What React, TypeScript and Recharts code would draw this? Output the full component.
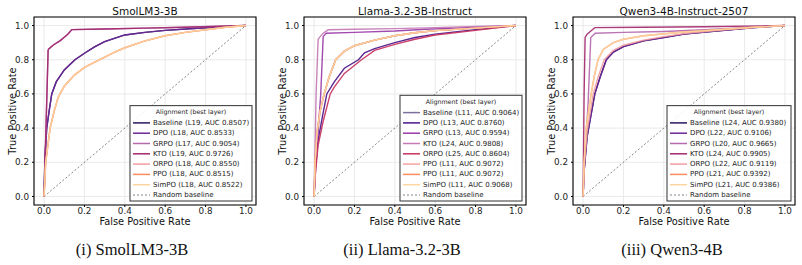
import React from 'react';
import { LineChart, Line, XAxis, YAxis, CartesianGrid, ReferenceArea } from 'recharts';

const FONT = 'DejaVu Sans';
const axisTicks = [0, 0.2, 0.4, 0.6, 0.8, 1.0];
const chanceFpr = [0, 1];
const chanceTpr = [0, 1];

// SmolLM3-3B curves
const smolHighFpr = [0, 0.02, 0.022, 0.046, 0.08, 0.1, 0.12, 0.137, 0.3, 0.5, 0.7, 1.0];
const smolHighTpr = [0, 0.855, 0.862, 0.886, 0.912, 0.932, 0.952, 0.976, 0.98, 0.985, 0.99, 1.0];
const smolMidFpr = [0, 0.004, 0.013, 0.025, 0.038, 0.06, 0.1, 0.153, 0.2, 0.25, 0.3, 0.4, 0.5, 0.6, 0.8, 1.0];
const smolMidTpr = [0, 0.22, 0.4, 0.5, 0.6, 0.67, 0.74, 0.8, 0.838, 0.875, 0.906, 0.945, 0.96, 0.972, 0.987, 1.0];
const smolLowFpr = [0, 0.008, 0.03, 0.05, 0.07, 0.1, 0.15, 0.2, 0.276, 0.35, 0.4, 0.5, 0.6, 0.7, 0.8, 0.9, 1.0];
const smolLowTpr = [0, 0.2, 0.4, 0.5, 0.58, 0.645, 0.71, 0.755, 0.8, 0.845, 0.87, 0.91, 0.94, 0.96, 0.975, 0.99, 1.0];

// Llama-3.2-3B curves
const llamaTopFpr = [0, 0.005, 0.01, 0.02, 0.03, 0.045, 0.07, 0.2, 0.4, 0.6, 0.8, 1.0];
const llamaTopTpr = [0, 0.3, 0.6, 0.92, 0.935, 0.955, 0.975, 0.978, 0.982, 0.988, 0.994, 1.0];
const llamaSecondFpr = [0, 0.01, 0.02, 0.033, 0.045, 0.06, 0.2, 0.4, 0.55, 0.7, 0.85, 1.0];
const llamaSecondTpr = [0, 0.2, 0.38, 0.6, 0.935, 0.955, 0.96, 0.968, 0.978, 0.985, 0.993, 1.0];
const llamaMidFpr = [0, 0.005, 0.015, 0.03, 0.05, 0.075, 0.107, 0.15, 0.2, 0.3, 0.4, 0.5, 0.6, 0.8, 1.0];
const llamaMidTpr = [0, 0.2, 0.38, 0.5, 0.6, 0.7, 0.8, 0.85, 0.882, 0.915, 0.94, 0.958, 0.97, 0.985, 1.0];
const llamaDpoFpr = [0, 0.005, 0.02, 0.04, 0.063, 0.1, 0.15, 0.22, 0.25, 0.3, 0.4, 0.5, 0.6, 0.8, 1.0];
const llamaDpoTpr = [0, 0.15, 0.33, 0.46, 0.6, 0.67, 0.75, 0.8, 0.84, 0.865, 0.9, 0.93, 0.95, 0.976, 1.0];
const llamaOrpoFpr = [0, 0.005, 0.02, 0.045, 0.08, 0.1, 0.15, 0.235, 0.3, 0.4, 0.5, 0.6, 0.8, 1.0];
const llamaOrpoTpr = [0, 0.12, 0.3, 0.44, 0.6, 0.64, 0.72, 0.8, 0.855, 0.89, 0.92, 0.945, 0.972, 1.0];

// Qwen3-4B curves
const qwenTopFpr = [0, 0.005, 0.01, 0.02, 0.04, 0.058, 0.3, 0.6, 1.0];
const qwenTopTpr = [0, 0.6, 0.93, 0.95, 0.97, 0.988, 0.99, 0.993, 1.0];
const qwenSecondFpr = [0, 0.01, 0.025, 0.038, 0.06, 0.2, 0.4, 0.6, 0.8, 1.0];
const qwenSecondTpr = [0, 0.25, 0.55, 0.93, 0.955, 0.96, 0.965, 0.975, 0.988, 1.0];
const qwenMidFpr = [0, 0.005, 0.015, 0.04, 0.055, 0.074, 0.1, 0.15, 0.2, 0.3, 0.5, 0.7, 0.85, 1.0];
const qwenMidTpr = [0, 0.2, 0.4, 0.6, 0.7, 0.8, 0.86, 0.9, 0.92, 0.94, 0.962, 0.978, 0.99, 1.0];
const qwenLowFpr = [0, 0.005, 0.02, 0.058, 0.085, 0.115, 0.15, 0.2, 0.3, 0.4, 0.5, 0.7, 0.85, 1.0];
const qwenLowTpr = [0, 0.15, 0.35, 0.6, 0.7, 0.8, 0.845, 0.877, 0.91, 0.93, 0.95, 0.972, 0.988, 1.0];
const qwenOrpoFpr = [0, 0.005, 0.02, 0.05, 0.075, 0.105, 0.15, 0.2, 0.3, 0.4, 0.5, 0.7, 0.85, 1.0];
const qwenOrpoTpr = [0, 0.18, 0.38, 0.6, 0.7, 0.8, 0.855, 0.885, 0.915, 0.935, 0.953, 0.975, 0.989, 1.0];

const smolLabels = ['Baseline (L19, AUC 0.8507)', 'DPO (L18, AUC 0.8533)', 'GRPO (L17, AUC 0.9054)', 'KTO (L19, AUC 0.9726)', 'ORPO (L18, AUC 0.8550)', 'PPO (L18, AUC 0.8515)', 'SimPO (L18, AUC 0.8522)'];
const llamaLabels = ['Baseline (L11, AUC 0.9064)', 'DPO (L13, AUC 0.8760)', 'GRPO (L13, AUC 0.9594)', 'KTO (L24, AUC 0.9808)', 'ORPO (L25, AUC 0.8604)', 'PPO (L11, AUC 0.9072)', 'PPO (L11, AUC 0.9072)', 'SimPO (L11, AUC 0.9068)'];
const qwenLabels = ['Baseline (L24, AUC 0.9380)', 'DPO (L22, AUC 0.9106)', 'GRPO (L20, AUC 0.9665)', 'KTO (L24, AUC 0.9905)', 'ORPO (L22, AUC 0.9119)', 'PPO (L21, AUC 0.9392)', 'SimPO (L21, AUC 0.9386)'];

const sevenColors = ['#2a1660', '#6a2796', '#b468ad', '#a3296e', '#f29da0', '#fb8d5d', '#fdd49e'];
const eightColors = ['#7d6f9f', '#4b1589', '#9a3aa8', '#c47ab4', '#c7325e', '#f5a3a3', '#fb8c5c', '#fed6a0'];

const toPoints = (fpr: number[], tpr: number[]) => fpr.map((x, i) => ({ x, y: tpr[i] }));

const panels = [
  {
    title: 'SmolLM3-3B', caption: '(i) SmolLM3-3B', left: 0, captionX: 132, legendWidth: 122,
    labels: smolLabels, colors: sevenColors,
    curves: [[smolMidFpr, smolMidTpr], [smolMidFpr, smolMidTpr], [smolHighFpr, smolHighTpr], [smolHighFpr, smolHighTpr], [smolLowFpr, smolLowTpr], [smolLowFpr, smolLowTpr], [smolLowFpr, smolLowTpr]],
  },
  {
    title: 'Llama-3.2-3B-Instruct', caption: '(ii) Llama-3.2-3B', left: 270, captionX: 402, legendWidth: 122,
    labels: llamaLabels, colors: eightColors,
    curves: [[llamaMidFpr, llamaMidTpr], [llamaDpoFpr, llamaDpoTpr], [llamaSecondFpr, llamaSecondTpr], [llamaTopFpr, llamaTopTpr], [llamaOrpoFpr, llamaOrpoTpr], [llamaMidFpr, llamaMidTpr], [llamaMidFpr, llamaMidTpr], [llamaMidFpr, llamaMidTpr]],
  },
  {
    title: 'Qwen3-4B-Instruct-2507', caption: '(iii) Qwen3-4B', left: 539, captionX: 672, legendWidth: 124,
    labels: qwenLabels, colors: sevenColors,
    curves: [[qwenLowFpr, qwenLowTpr], [qwenLowFpr, qwenLowTpr], [qwenSecondFpr, qwenSecondTpr], [qwenTopFpr, qwenTopTpr], [qwenOrpoFpr, qwenOrpoTpr], [qwenMidFpr, qwenMidTpr], [qwenMidFpr, qwenMidTpr]],
  },
];

const fmt = (v: number) => v.toFixed(1);
const tickStyle = { fontSize: 8.8, fill: '#222', fontFamily: FONT };

function RocPanel({ panel }: any) {
  return (
    <div style={{ position: 'absolute', left: panel.left, top: 0 }}>
      <LineChart width={260} height={230} margin={{ top: 17, right: 4, bottom: 11, left: 10 }}>
        <CartesianGrid stroke="#e4e4e4" strokeWidth={0.8} />
        <XAxis type="number" dataKey="x" domain={[-0.05, 1.05]} ticks={axisTicks} tickFormatter={fmt}
          height={14} tickSize={2} tickMargin={1} axisLine={false} tickLine={{ stroke: '#000' }} tick={tickStyle} allowDataOverflow />
        <YAxis type="number" dataKey="y" domain={[-0.05, 1.05]} ticks={axisTicks} tickFormatter={fmt}
          width={24} tickSize={2} tickMargin={3} axisLine={false} tickLine={{ stroke: '#000' }} tick={tickStyle} allowDataOverflow />
        <ReferenceArea x1={-0.05} x2={1.05} y1={-0.05} y2={1.05} fill="none" stroke="#000" strokeWidth={1.1} />
        <Line data={toPoints(chanceFpr, chanceTpr)} dataKey="y" stroke="#666" strokeWidth={0.8} strokeDasharray="2 2"
          dot={false} isAnimationActive={false} />
        {panel.curves.map((c: number[][], i: number) => (
          <Line key={i} data={toPoints(c[0], c[1])} dataKey="y" stroke={panel.colors[i]} strokeWidth={1.4}
            strokeOpacity={0.92} dot={false} isAnimationActive={false} />
        ))}
      </LineChart>
    </div>
  );
}

function Overlay() {
  return (
    <svg width={802} height={265} style={{ position: 'absolute', left: 0, top: 0, pointerEvents: 'none' }}>
      {panels.map((p, k) => {
        const plotLeft = p.left + 34;
        const plotRight = plotLeft + 222;
        const n = p.labels.length + 1;
        const rowGap = 10.3;
        const firstRow = 195 - (n - 1) * rowGap;
        const titleY = firstRow - 11.3;
        const boxTop = titleY - 6;
        const boxLeft = plotRight - 4 - p.legendWidth;
        return (
          <g key={k} fontFamily={FONT}>
            <text x={plotLeft + 111} y={11} fontSize={10.5} textAnchor="middle" dominantBaseline="central" fill="#111">{p.title}</text>
            <text x={plotLeft + 111} y={221.5} fontSize={9.8} textAnchor="middle" dominantBaseline="central" fill="#111">False Positive Rate</text>
            <text x={plotLeft - 22} y={111} fontSize={9.8} textAnchor="middle" dominantBaseline="central" fill="#111"
              transform={`rotate(-90 ${plotLeft - 22} 111)`}>True Positive Rate</text>
            <rect x={boxLeft} y={boxTop} width={p.legendWidth} height={201 - boxTop} fill="#fff" fillOpacity={0.85} stroke="#444" strokeWidth={1.1} />
            <text x={boxLeft + p.legendWidth / 2} y={titleY} fontSize={6.3} textAnchor="middle" dominantBaseline="central" fill="#222">Alignment (best layer)</text>
            {p.labels.map((lab, i) => (
              <g key={i}>
                <line x1={boxLeft + 3} x2={boxLeft + 20} y1={firstRow + i * rowGap} y2={firstRow + i * rowGap} stroke={p.colors[i]} strokeWidth={1.5} />
                <text x={boxLeft + 23} y={firstRow + i * rowGap} fontSize={7} dominantBaseline="central" fill="#222">{lab}</text>
              </g>
            ))}
            <line x1={boxLeft + 3} x2={boxLeft + 20} y1={195} y2={195} stroke="#666" strokeWidth={0.8} strokeDasharray="2 2" />
            <text x={boxLeft + 23} y={195} fontSize={7} dominantBaseline="central" fill="#222">Random baseline</text>
            <text x={p.captionX} y={255} fontSize={16.5} textAnchor="middle" fontFamily="Liberation Serif" fill="#111">{p.caption}</text>
          </g>
        );
      })}
    </svg>
  );
}

export default function App() {
  return (
    <div style={{ position: 'absolute', left: 0, top: 0, width: 802, height: 265, background: '#fff' }}>
      {panels.map((p, i) => <RocPanel key={i} panel={p} />)}
      <Overlay />
    </div>
  );
}
